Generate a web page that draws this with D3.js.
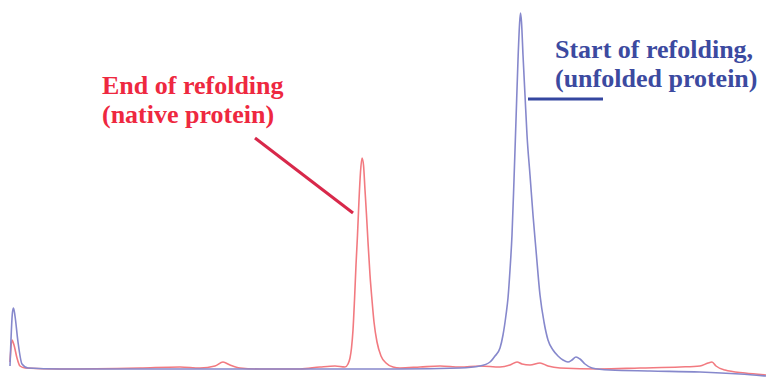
<!DOCTYPE html>
<html>
<head>
<meta charset="utf-8">
<script src="https://cdn.jsdelivr.net/npm/d3@7"></script>
<style>
    html, body { margin: 0; padding: 0; background: #fff; }
    svg { display: block; }
</style>
</head>
<body>
<div id="plot1"></div>
<script>
// retention time (min) and absorbance (mAU)
const unfoldedTime = [0, 0.125, 0.175, 0.25, 0.4, 0.6, 0.9, 2.5, 6.5, 9.5, 12.5, 14.5, 16.5, 19.5, 22.5, 23.5, 24.0, 24.25,
    24.5, 24.65, 24.8, 24.9, 25.0, 25.1, 25.2, 25.3, 25.4, 25.475, 25.525, 25.575, 25.65, 25.75, 25.85, 26.0, 26.15, 26.3,
    26.5, 26.7, 26.9, 27.15, 27.4, 27.65, 27.9, 28.1, 28.3, 28.5, 28.75, 29.1, 30.0, 32.0, 34.5, 36.5, 37.8];
const unfoldedAbs = [2, 56, 60, 52, 26, 4, 0, -1, -1, -1, -1, -1, -1, -1, 0, 2, 6, 12,
    20, 33, 53, 70, 98, 133, 188, 248, 308, 343, 355, 346, 313, 273, 233, 193, 153, 118,
    73, 46, 28, 18, 12, 8, 6, 8, 11, 9, 4, 0, -2, -3, -4, -6, -8];

const nativeTime = [0, 0.1, 0.2, 0.35, 0.5, 0.75, 2.5, 6.5, 8.5, 9.5, 10.25, 10.65, 11.0, 11.5, 12.5, 14.5, 15.5, 16.25,
    16.75, 16.9, 17.0, 17.075, 17.15, 17.225, 17.3, 17.375, 17.45, 17.525, 17.6, 17.675, 17.75, 17.825, 17.9, 18.0, 18.1,
    18.2, 18.35, 18.55, 18.8, 19.15, 19.5, 20.5, 21.5, 22.5, 23.5, 24.5, 25.0, 25.35, 25.6, 26.0, 26.5, 26.9, 27.5, 29.5,
    31.5, 33.5, 34.5, 34.9, 35.1, 35.3, 35.75, 36.75, 37.8];
const nativeAbs = [6, 28, 23, 10, 2, 0, -1, 0, 1, 0, 2, 6, 3, 0, -1, -1, 1, 2,
    1, 4, 10, 20, 38, 68, 103, 133, 168, 196, 210, 203, 178, 153, 126, 93, 68,
    46, 26, 12, 5, 1, 0, 1, 2, 1, 2, 1, 3, 6, 4, 3, 5, 2, 0, -1,
    0, 1, 2, 5, 6, 2, -2, -5, -7];

const labelNative = ['End of refolding', '(native protein)'];
const labelUnfolded = ['Start of refolding,', '(unfolded protein)'];

let svgWidth = 766;
let svgHeight = 380;

let svg = d3.select('#plot1')
    .append('svg')
    .attr('width', svgWidth)
    .attr('height', svgHeight);

let xs = d3.scaleLinear().domain([0, 37.8]).range([10, 766]);
let ys = d3.scaleLinear().domain([0, 356]).range([368, 12]);

const lineGenerator = d3.line()
    .x(d => xs(d[0]))
    .y(d => ys(d[1]))
    .curve(d3.curveMonotoneX);

let unfolded = d3.zip(unfoldedTime, unfoldedAbs);
let native = d3.zip(nativeTime, nativeAbs);

svg.append('path')
    .datum(native)
    .attr('d', lineGenerator)
    .style('fill', 'none')
    .style('stroke', '#f27a80')
    .style('stroke-width', '1.6px');

svg.append('path')
    .datum(unfolded)
    .attr('d', lineGenerator)
    .style('fill', 'none')
    .style('stroke', '#8688cc')
    .style('stroke-width', '1.6px');

// annotations, placed in data units
let font = '"Liberation Serif", "Times New Roman", serif';
let fontSize = 26;
let lineGap = 29;

svg.append('line')
    .attr('x1', xs(12.25)).attr('y1', ys(230))
    .attr('x2', xs(17.15)).attr('y2', ys(155))
    .style('stroke', '#d8284a')
    .style('stroke-width', '3px');

svg.append('text')
    .attr('x', xs(4.6))
    .attr('y', ys(274))
    .style('font-family', font)
    .style('font-weight', 'bold')
    .style('font-size', fontSize + 'px')
    .style('fill', '#ee2840')
    .selectAll('tspan')
    .data(labelNative)
    .enter()
    .append('tspan')
        .attr('x', xs(4.6))
        .attr('dy', (d, i) => i === 0 ? 0 : lineGap)
        .text(d => d);

svg.append('line')
    .attr('x1', xs(25.9)).attr('y1', ys(269))
    .attr('x2', xs(29.65)).attr('y2', ys(269))
    .style('stroke', '#3446a0')
    .style('stroke-width', '3px');

svg.append('text')
    .attr('x', xs(27.25))
    .attr('y', ys(310))
    .style('font-family', font)
    .style('font-weight', 'bold')
    .style('font-size', fontSize + 'px')
    .style('fill', '#3c4aa0')
    .selectAll('tspan')
    .data(labelUnfolded)
    .enter()
    .append('tspan')
        .attr('x', xs(27.25))
        .attr('dy', (d, i) => i === 0 ? 0 : lineGap)
        .text(d => d);
</script>
</body>
</html>
